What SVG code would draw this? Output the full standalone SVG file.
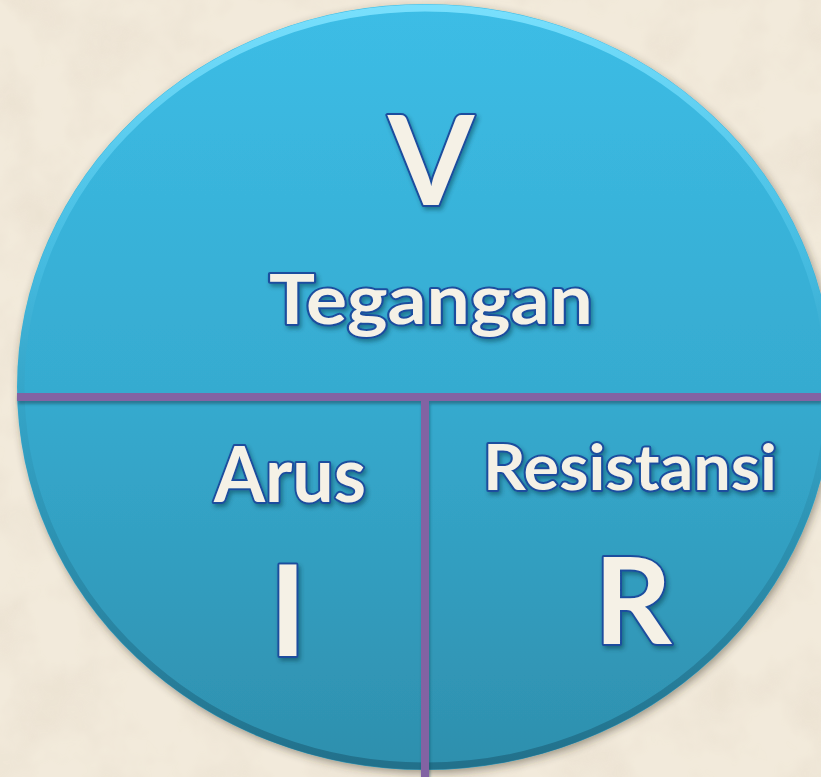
<svg xmlns="http://www.w3.org/2000/svg" width="821" height="777" viewBox="0 0 821 777">
  <defs>
    <linearGradient id="disc" x1="0" y1="0" x2="0" y2="1">
      <stop offset="0" stop-color="#3CBDE6"/>
      <stop offset="0.5" stop-color="#36ABD0"/>
      <stop offset="1" stop-color="#2E8FAD"/>
    </linearGradient>
    <linearGradient id="bevel" x1="0" y1="0" x2="0" y2="1">
      <stop offset="0" stop-color="#7FE3FF" stop-opacity="0.9"/>
      <stop offset="0.35" stop-color="#5FD0F2" stop-opacity="0.3"/>
      <stop offset="0.6" stop-color="#1E6E88" stop-opacity="0.15"/>
      <stop offset="1" stop-color="#1A5C74" stop-opacity="0.6"/>
    </linearGradient>
    <filter id="paper" x="0" y="0" width="100%" height="100%">
      <feTurbulence type="fractalNoise" baseFrequency="0.015" numOctaves="4" seed="7" result="n"/>
      <feColorMatrix in="n" type="matrix" values="0 0 0 0 0.78  0 0 0 0 0.70  0 0 0 0 0.58  0 0 0 1.4 -0.55" result="c"/>
      <feComposite in="c" in2="SourceGraphic" operator="in"/>
    </filter>
    <filter id="discShadow" x="-10%" y="-10%" width="120%" height="120%">
      <feDropShadow dx="2" dy="3" stdDeviation="4" flood-color="#3A3020" flood-opacity="0.45"/>
    </filter>
    <filter id="lineShadow" x="-5%" y="-5%" width="110%" height="110%">
      <feDropShadow dx="1" dy="3" stdDeviation="1.5" flood-color="#123848" flood-opacity="0.45"/>
    </filter>
    <filter id="txtShadow" x="-10%" y="-10%" width="120%" height="130%">
      <feDropShadow dx="2" dy="3" stdDeviation="2" flood-color="#0E3040" flood-opacity="0.45"/>
    </filter>
    <clipPath id="discClip">
      <ellipse cx="425" cy="387" rx="408" ry="383"/>
    </clipPath>
  </defs>
  <style>
    .lbl { font-family: Lato, "Liberation Sans", sans-serif; font-weight: 700; fill: #F5F1E6; stroke: #1B4E9E; stroke-width: 4; paint-order: stroke fill; stroke-linejoin: round; text-anchor: middle; filter: url(#txtShadow); }
    .div { stroke: #8264A3; stroke-width: 8; fill: none; }
  </style>

  <!-- background -->
  <rect x="0" y="0" width="821" height="777" fill="#F2EADB"/>
  <rect x="0" y="0" width="821" height="777" fill="#FFFFFF" filter="url(#paper)" opacity="0.7"/>

  <g id="disc-node">
    <ellipse cx="425" cy="387" rx="408" ry="383" fill="url(#disc)" filter="url(#discShadow)"/>
    <ellipse cx="425" cy="387" rx="404" ry="379" fill="none" stroke="url(#bevel)" stroke-width="7"/>
  </g>

  <g id="connectors" filter="url(#lineShadow)">
    <line class="div" x1="17" y1="397" x2="821" y2="397"/>
    <line class="div" x1="425" y1="397" x2="425" y2="777"/>
  </g>

  <g id="node-tegangan">
    <text class="lbl" x="431" y="205" font-size="124">V</text>
    <text class="lbl" x="431" y="324" font-size="69" textLength="324" lengthAdjust="spacingAndGlyphs">Tegangan</text>
  </g>

  <g id="node-arus">
    <text class="lbl" x="290" y="502" font-size="77" textLength="152" lengthAdjust="spacingAndGlyphs">Arus</text>
    <text class="lbl" x="288" y="656" font-size="126">I</text>
  </g>

  <g id="node-resistansi">
    <text class="lbl" x="630" y="490" font-size="64" textLength="294" lengthAdjust="spacingAndGlyphs">Resistansi</text>
    <text class="lbl" x="633" y="644" font-size="121">R</text>
  </g>
</svg>
